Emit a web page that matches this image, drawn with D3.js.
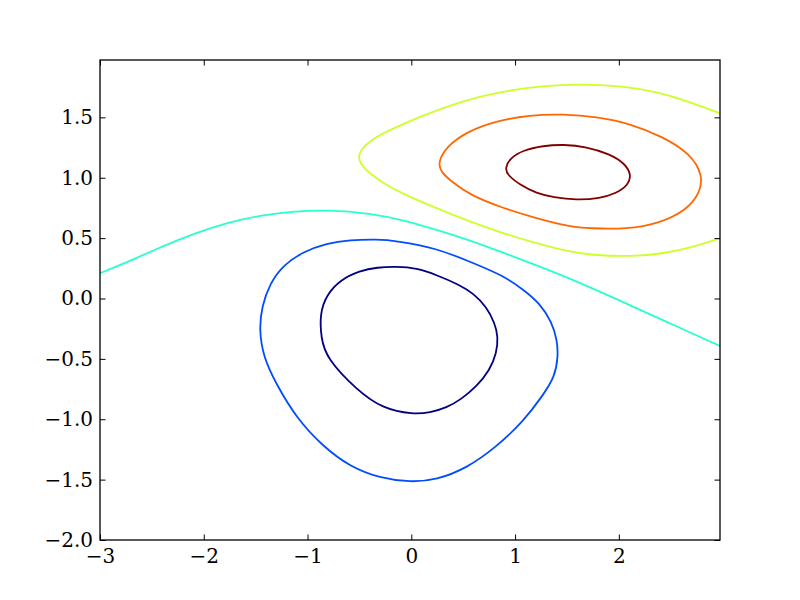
<!doctype html>
<html>
<head>
<meta charset="utf-8">
<style>
  body { margin: 0; background: #fff; }
  .tick text { font-family: "DejaVu Serif", serif; font-size: 20px; fill: #000; }
  .contour { fill: none; stroke-width: 1.8; }
</style>
<script src="https://d3js.org/d3.v7.min.js"></script>
</head>
<body>
<svg width="800" height="600"></svg>
<script>
// tick values
var xTicks = [-3, -2, -1, 0, 1, 2];
var yTicks = [-2.0, -1.5, -1.0, -0.5, 0.0, 0.5, 1.0, 1.5];

// contour levels and their colours (jet)
var levels = [-1.0, -0.5, 0.0, 0.5, 1.0, 1.5];
var levelColors = ["#000080", "#004cff", "#29ffce", "#ceff29", "#ff6800", "#800000"];
var closedLevel = [true, true, false, false, true, true];

// contour lines, [x, y] in data units
var lvlM10 = [[-0.495,0.230],[-0.330,0.258],[-0.142,0.265],[0.050,0.252],[0.244,0.195],[0.468,0.112],
  [0.596,0.043],[0.725,-0.068],[0.805,-0.205],[0.837,-0.316],[0.822,-0.454],[0.757,-0.592],
  [0.629,-0.730],[0.480,-0.835],[0.340,-0.905],[0.180,-0.945],[0.018,-0.959],[-0.271,-0.915],
  [-0.527,-0.757],[-0.816,-0.495],[-0.870,-0.330],[-0.881,-0.123],[-0.816,0.029],[-0.688,0.153]];
var lvlM05 = [[-0.334,0.490],[-0.142,0.478],[0.244,0.416],[0.565,0.305],[0.885,0.190],[1.078,0.075],
  [1.239,-0.040],[1.352,-0.192],[1.406,-0.344],[1.415,-0.482],[1.383,-0.647],[1.271,-0.799],
  [1.078,-1.020],[0.822,-1.227],[0.533,-1.406],[0.244,-1.502],[-0.013,-1.522],[-0.302,-1.488],
  [-0.592,-1.392],[-0.849,-1.227],[-1.105,-0.992],[-1.298,-0.716],[-1.427,-0.482],[-1.465,-0.261],
  [-1.442,-0.068],[-1.362,0.126],[-1.234,0.277],[-1.041,0.387],[-0.816,0.457],[-0.592,0.484]];
var lvl00 = [[-3.0,0.21],[-2.727,0.305],[-2.406,0.429],[-2.085,0.540],[-1.764,0.631],[-1.442,0.691],
  [-1.121,0.724],[-0.801,0.733],[-0.399,0.705],[-0.078,0.650],[0.244,0.570],[0.565,0.482],
  [0.885,0.380],[1.207,0.275],[1.528,0.167],[2.010,-0.017],[2.462,-0.195],[2.975,-0.393]];
var lvl05 = [[2.975,1.533],[2.684,1.629],[2.363,1.712],[2.041,1.759],[1.624,1.776],[1.239,1.759],
  [0.854,1.712],[0.468,1.629],[0.115,1.519],[-0.206,1.395],[-0.367,1.326],[-0.479,1.243],
  [-0.512,1.174],[-0.488,1.113],[-0.415,1.045],[-0.271,0.955],[-0.078,0.865],[0.244,0.747],
  [0.565,0.636],[0.885,0.540],[1.207,0.457],[1.528,0.387],[1.721,0.360],[2.138,0.346],
  [2.459,0.374],[2.780,0.443],[2.975,0.498]];
var lvl10 = [[0.259,1.132],[0.340,1.257],[0.533,1.381],[0.822,1.472],[1.143,1.519],[1.464,1.527],
  [1.785,1.505],[2.106,1.450],[2.427,1.339],[2.684,1.202],[2.812,1.022],[2.780,0.871],
  [2.652,0.733],[2.395,0.623],[2.074,0.573],[1.721,0.581],[1.528,0.594],[1.207,0.664],
  [0.885,0.747],[0.565,0.857],[0.400,0.960],[0.280,1.050]];
var lvl15 = [[0.902,1.078],[0.950,1.161],[1.078,1.229],[1.271,1.265],[1.464,1.276],[1.689,1.257],
  [1.913,1.196],[2.058,1.119],[2.122,1.022],[2.090,0.940],[1.977,0.871],[1.817,0.829],
  [1.592,0.815],[1.367,0.838],[1.207,0.870],[1.050,0.940],[0.930,1.020]];
var lines = [lvlM10, lvlM05, lvl00, lvl05, lvl10, lvl15];

var svg = d3.select("svg"),
    mLeft = 100, mTop = 60, mRight = 720, mBottom = 540;

var x = d3.scaleLinear().domain([-3, 2.975]).range([mLeft, mRight]);
var y = d3.scaleLinear().domain([-2, 1.975]).range([mBottom, mTop]);

svg.append("clipPath").attr("id", "clip")
   .append("rect").attr("x", mLeft).attr("y", mTop)
   .attr("width", mRight - mLeft).attr("height", mBottom - mTop);

var plot = svg.append("g").attr("clip-path", "url(#clip)");

// b-spline smooths out the small errors of the hand-read points
lines.forEach(function(pts, i) {
    var line = d3.line()
        .x(function(d) { return x(d[0]); })
        .y(function(d) { return y(d[1]); })
        .curve(closedLevel[i] ? d3.curveBasisClosed : d3.curveBasis);
    plot.append("path")
        .attr("class", "contour")
        .attr("stroke", levelColors[i])
        .attr("d", line(pts));
});

var tick = 5.5;

svg.append("g")
   .attr("transform", "translate(0," + mBottom + ")")
   .call(d3.axisBottom(x).tickValues(xTicks).tickFormat(d3.format("d"))
         .tickSizeInner(-tick).tickSizeOuter(0).tickPadding(9));
svg.append("g")
   .attr("transform", "translate(0," + mTop + ")")
   .call(d3.axisTop(x).tickValues(xTicks).tickFormat("")
         .tickSizeInner(-tick).tickSizeOuter(0));
svg.append("g")
   .attr("transform", "translate(" + mLeft + ",0)")
   .call(d3.axisLeft(y).tickValues(yTicks).tickFormat(d3.format(".1f"))
         .tickSizeInner(-tick).tickSizeOuter(0).tickPadding(7));
svg.append("g")
   .attr("transform", "translate(" + mRight + ",0)")
   .call(d3.axisRight(y).tickValues(yTicks).tickFormat("")
         .tickSizeInner(-tick).tickSizeOuter(0));

svg.selectAll(".domain").remove();
svg.selectAll(".tick line").attr("stroke", "#000").attr("stroke-width", 1);

svg.append("rect")
   .attr("x", mLeft).attr("y", mTop)
   .attr("width", mRight - mLeft).attr("height", mBottom - mTop)
   .attr("fill", "none").attr("stroke", "#000").attr("stroke-width", 1.3);
</script>
</body>
</html>
